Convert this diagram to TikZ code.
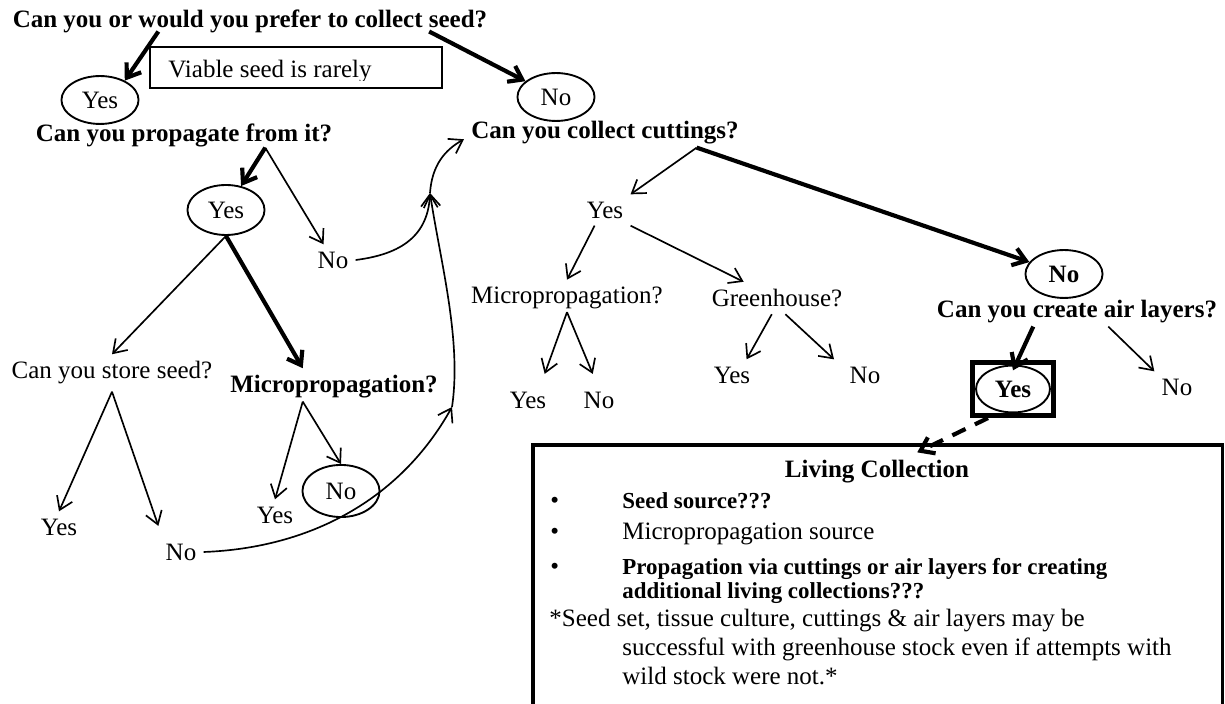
\documentclass[tikz,border=0pt]{standalone}
\usepackage{fontspec}
\setmainfont{Liberation Serif}
\usetikzlibrary{shapes.geometric,arrows.meta}
\tikzset{
  ans/.style={draw, ellipse, line width=0.9pt, minimum width=37pt, minimum height=23pt, inner sep=0pt},
  ques/.style={font=\fontsize{12}{14}\selectfont\bfseries},
  item/.style={anchor=base west, inner sep=0pt},
  smallbold/.style={font=\fontsize{11}{13}\selectfont\bfseries},
  arr/.style={line width=0.8pt, -{Straight Barb[length=6pt,width=8pt]}},
  boldarr/.style={line width=2pt, -{Straight Barb[length=6pt,width=8.5pt]}},
}

\begin{document}
\begin{tikzpicture}[x=0.48pt, y=-0.48pt, font=\fontsize{12}{14}\selectfont]
  \useasboundingbox (0,0) rectangle (1225,704);

  % Seed question
  \node[ques] (seedq) at (250,21) {Can you or would you prefer to collect seed?};
  \node[ans] (yes1) at (100,100) {Yes};
  \node[ans] (no1) at (556,97) {No};
  \draw[line width=0.9pt] (150,47) rectangle (442,88);
  \begin{scope}
    \clip (150,47) rectangle (442,81);
    \node[item] (viable) at (168,78) {Viable seed is rarely};
  \end{scope}
  \draw[boldarr] ([xshift=-44pt,yshift=4pt]seedq.south) -- (yes1.38);
  \draw[boldarr] ([xshift=86pt,yshift=4pt]seedq.south) -- (no1);

  % Propagation from seed
  \node[ques] (propq) at (184,135) {Can you propagate from it?};
  \node[ans, minimum height=24pt] (yes2) at (226,210) {Yes};
  \node (no2) at (333,260) {No};
  \draw[boldarr] ([xshift=39pt,yshift=3pt]propq.south) -- (yes2);
  \draw[arr] ([xshift=39pt,yshift=3pt]propq.south) -- (no2);

  \node (storeq) at (112,373) {Can you store seed?};
  \node[ques] (microq1) at (334,387) {Micropropagation?};
  \draw[arr] (yes2.south) -- (storeq.north);
  \draw[boldarr] (yes2.south) -- ([xshift=-15pt]microq1.north);

  \node (yes3) at (59,527) {Yes};
  \node (no3) at (181,552) {No};
  \draw[arr] (storeq.south) -- (yes3.north);
  \draw[arr] (storeq.south) -- ([yshift=5pt]no3.north west);

  \node (yes4) at (275,515) {Yes};
  \node[ans, minimum height=25pt] (no4) at (341,491) {No};
  \draw[arr] ([xshift=-15pt,yshift=2pt]microq1.south) -- (yes4.north);
  \draw[arr] ([xshift=-15pt,yshift=2pt]microq1.south) -- (no4.north);

  % Cuttings
  \node[ques] (cutq) at (605,133) {Can you collect cuttings?};
  \coordinate (merge) at (430,193);
  \coordinate (lowtip) at (452,407);
  \draw[arr] (no2.east) .. controls (395,255) and (428,240) .. (merge);
  \draw[arr] (merge) .. controls (432,165) and (445,150) .. ([yshift=-3pt]cutq.west);
  \draw[arr] (no3.east) .. controls (310,548) and (400,500) .. (lowtip);
  \draw[arr] (lowtip) .. controls (462,340) and (440,260) .. (merge);

  \node (yes5) at (605,210) {Yes};
  \node[ans, font=\fontsize{12}{14}\selectfont\bfseries] (no5) at (1064,274) {No};
  \draw[arr] ([xshift=44pt,yshift=2pt]cutq.south) -- (yes5.north east);
  \draw[boldarr] ([xshift=44pt,yshift=2pt]cutq.south) -- (no5);

  \node (microq2) at (567,298) {Micropropagation?};
  \node (greenq) at (777,298) {Greenhouse?};
  \draw[arr] ([xshift=-5pt]yes5.south) -- (microq2.north);
  \draw[arr] (yes5.south east) -- ([xshift=-16pt]greenq.north);

  \node (yes6) at (528,400) {Yes};
  \node (no6) at (599,400) {No};
  \draw[arr] ([yshift=2pt]microq2.south) -- ([xshift=8pt,yshift=5pt]yes6.north);
  \draw[arr] ([yshift=2pt]microq2.south) -- ([xshift=-3pt,yshift=5pt]no6.north);

  \node (yes7) at (732,375) {Yes};
  \node (no7) at (865,375) {No};
  \draw[arr] ([xshift=-2.5pt]greenq.south) -- ([xshift=7pt]yes7.north);
  \draw[arr] ([xshift=4pt]greenq.south) -- ([xshift=-4pt]no7.north west);

  % Air layers
  \node[ques] (airq) at (1077,312) {Can you create air layers?};
  \node[draw, line width=2.4pt, minimum width=39pt, minimum height=25.5pt, inner sep=0pt] (yesbox) at (1013,389) {};
  \node[ans, font=\fontsize{12}{14}\selectfont\bfseries, minimum width=35.5pt, minimum height=22.5pt] (yesair) at (yesbox) {Yes};
  \node (no8) at (1177,387) {No};
  \draw[boldarr] ([xshift=-21pt,yshift=2pt]airq.south) -- ([yshift=-5pt]yesbox.north);
  \draw[arr] ([xshift=15pt,yshift=2pt]airq.south) -- (no8.north west);

  % Living collection
  \node[draw, line width=1.8pt, anchor=north west, minimum width=331pt, minimum height=132pt, inner sep=0pt] (living) at (531,443) {};
  \draw[boldarr, dash pattern=on 7pt off 5pt] ([xshift=-12pt]yesbox.south) -- ([xshift=19pt,yshift=-4.5pt]living.north);
  \node[ques, anchor=base] (livtitle) at (877,478) {Living Collection};
  \foreach \y/\name in {509/dot1, 540/dot2, 575/dot3}
    \node[item] (\name) at (550,\y) {•};
  \node[item, smallbold] (src1) at (622,509) {Seed source???};
  \node[item] (src2) at (622,540) {Micropropagation source};
  \node[item, smallbold] (src3) at (622,575) {Propagation via cuttings or air layers for creating};
  \node[item, smallbold] (src3b) at (622,599) {additional living collections???};
  \node[item] (note1) at (549,627) {*Seed set, tissue culture, cuttings \& air layers may be};
  \node[item] (note2) at (622,656) {successful with greenhouse stock even if attempts with};
  \node[item] (note3) at (622,685) {wild stock were not.*};
\end{tikzpicture}
\end{document}
